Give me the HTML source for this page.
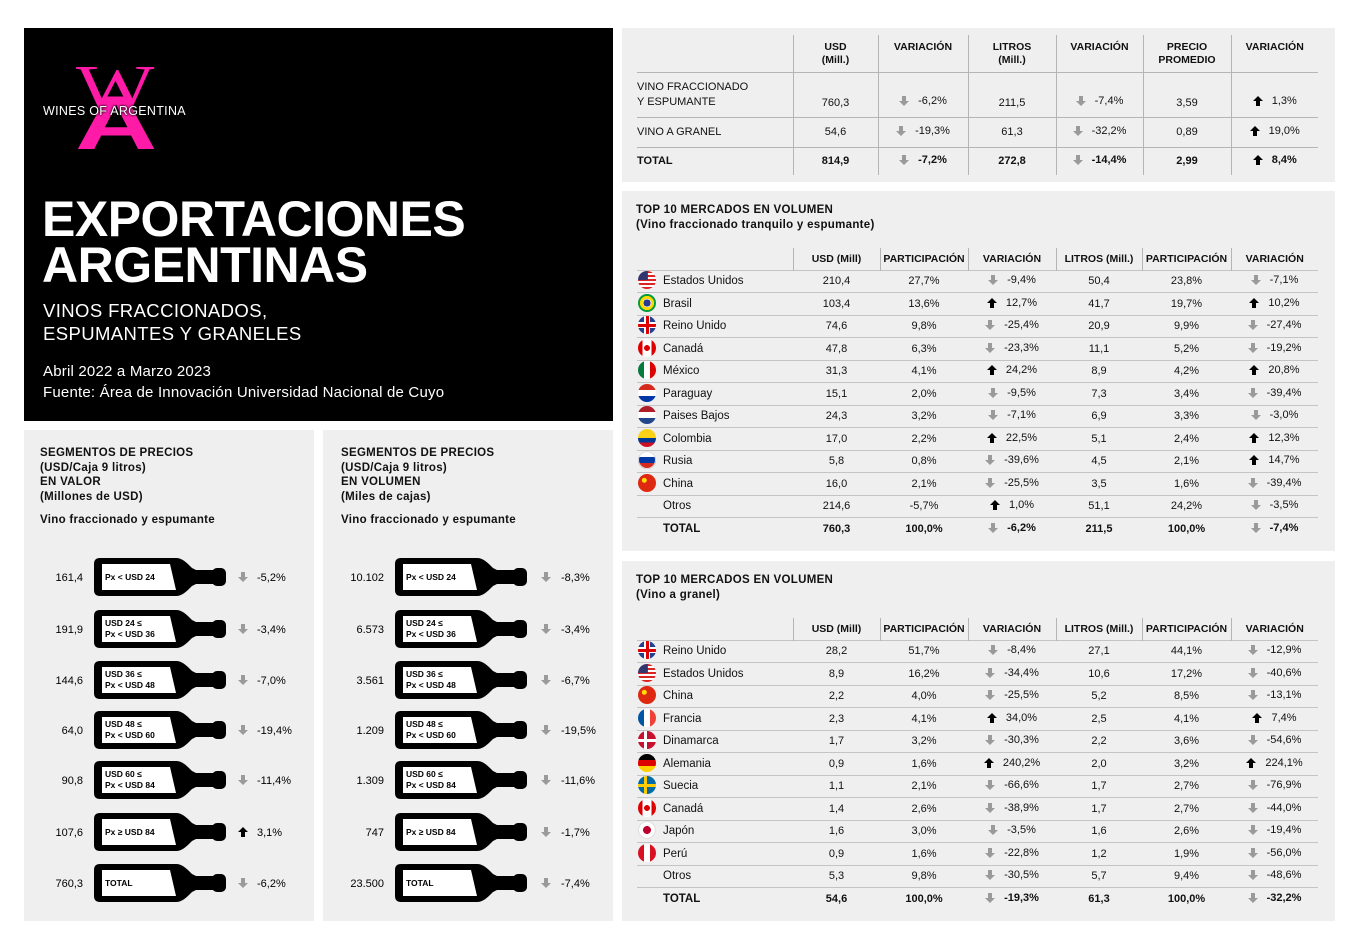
<!DOCTYPE html>
<html><head><meta charset="utf-8">
<style>
*{margin:0;padding:0;box-sizing:border-box}
body{width:1360px;height:945px;background:#fff;position:relative;font-family:"Liberation Sans",sans-serif;color:#111;overflow:hidden}
.p{position:absolute;background:#efefef}
.blk{position:absolute;left:24px;top:28px;width:589px;height:393px;background:#000;color:#fff}
.ab{position:absolute;white-space:nowrap}
table{border-collapse:collapse;position:absolute;table-layout:fixed;font-size:11px}
td{text-align:center;white-space:nowrap;padding:0}
.t1 td{border-left:1px solid #b5b5b5}
.t1 td:first-child{border-left:none;text-align:left}
.t1 tr.h td{vertical-align:top;padding-top:6px;font-weight:bold;font-size:10.5px;line-height:13px}
.t1 tr.r td{border-top:1px solid #b5b5b5}
.t2 tr.h td{font-weight:bold;font-size:10.5px;border-left:1px solid #b5b5b5;height:22px;vertical-align:middle}
.t2 tr.h td:first-child{border-left:none}
.t2 tr.r td{height:22.5px;border-top:1px solid #c4c4c4;font-size:11px}
.t2 tr.r td:first-child{text-align:left;font-size:11.5px}
.b td{font-weight:bold}
.f{display:inline-block;width:18px;height:18px;border-radius:50%;vertical-align:middle;margin:0 7px 0 1px;position:relative;top:-1px}
.v{display:inline-flex;align-items:center;gap:9px}
.v svg{width:10px;height:10px}
.us{background:linear-gradient(#33366e,#33366e) 0 0/55% 50% no-repeat,repeating-linear-gradient(#d22 0 2px,#fff 2px 4px)}
.br{background:radial-gradient(circle,#2a3a8c 0 28%,#fff 29% 33%,#ffd800 34% 55%,#009b3a 56%)}
.uk{background:linear-gradient(#d00,#d00) center/100% 3px no-repeat,linear-gradient(#d00,#d00) center/3px 100% no-repeat,linear-gradient(#fff,#fff) center/100% 6px no-repeat,linear-gradient(#fff,#fff) center/6px 100% no-repeat,#23408e}
.ca{background:radial-gradient(circle,#d00 0 22%,transparent 24%),linear-gradient(90deg,#d00 25%,#fff 25% 75%,#d00 75%)}
.mx{background:linear-gradient(90deg,#087a3e 33%,#fff 33% 67%,#d00 67%)}
.py{background:linear-gradient(#d52b1e 33%,#fff 33% 67%,#0038a8 67%)}
.nl{background:linear-gradient(#ae1c28 33%,#fff 33% 67%,#21468b 67%)}
.co{background:linear-gradient(#fcd116 50%,#003893 50% 75%,#ce1126 75%)}
.ru{background:linear-gradient(#fff 33%,#0039a6 33% 67%,#d52b1e 67%);box-shadow:inset 0 0 0 1px #ddd}
.cn{background:radial-gradient(circle at 35% 35%,#ffde00 0 14%,#de2910 16%)}
.fr{background:linear-gradient(90deg,#0055a4 33%,#fff 33% 67%,#ef4135 67%)}
.dk{background:linear-gradient(#fff,#fff) center/100% 3px no-repeat,linear-gradient(#fff,#fff) 40% 0/3px 100% no-repeat,#c8102e}
.de{background:linear-gradient(#000 33%,#dd0000 33% 67%,#ffce00 67%)}
.se{background:linear-gradient(#fecc00,#fecc00) center/100% 3px no-repeat,linear-gradient(#fecc00,#fecc00) 40% 0/3px 100% no-repeat,#006aa7}
.jp{background:radial-gradient(circle,#bc002d 0 30%,#fff 32%);box-shadow:inset 0 0 0 1px #ddd}
.pe{background:linear-gradient(90deg,#d91023 33%,#fff 33% 67%,#d91023 67%)}
.nf{display:inline-block;width:26px}
.st{position:absolute;font-weight:bold;font-size:11.5px;line-height:14.5px;letter-spacing:.3px}
</style></head><body>
<svg width="0" height="0" style="position:absolute">
<defs>
<path id="dn" d="M3,0 H7 V5 H10 L5,10 L0,5 H3 Z" fill="#9a9a9a"/>
<path id="up" d="M5,0 L10,5 H7 V10 H3 V5 H0 Z" fill="#000"/>
<g id="bt">
<path d="M6,0 H82 C88,0 92,4 98,10 L102,12 H124 V26 H102 L98,28 C92,34 88,38 82,38 H6 Q0,38 0,32 V6 Q0,0 6,0 Z" fill="#000"/>
<rect x="118" y="10" width="14" height="18" rx="5" fill="#000"/>
<path d="M8,6 H76 L82,32 H8 Z" fill="#fff"/>
</g>
</defs></svg>

<div class="blk">
<div class="ab" style="left:52px;top:35px;font-family:'Liberation Serif',serif;font-size:62px;color:#ff1aa8;line-height:50px;transform:scaleX(1.34);transform-origin:left">W</div>
<div class="ab" style="left:51px;top:58px;font-size:76px;font-weight:bold;color:#ff1aa8;line-height:76px;transform:scaleX(1.5);transform-origin:left">A</div>
<div class="ab" style="left:19px;top:76px;font-size:12.5px;color:#fff;letter-spacing:.3px;text-shadow:0 0 2px #000,0 0 2px #000">WINES OF ARGENTINA</div>
<div class="ab" style="left:18px;top:168px;font-size:50px;font-weight:bold;line-height:46px;letter-spacing:-.5px">EXPORTACIONES<br>ARGENTINAS</div>
<div class="ab" style="left:19px;top:271px;font-size:18.5px;line-height:23px;letter-spacing:.4px">VINOS FRACCIONADOS,<br>ESPUMANTES Y GRANELES</div>
<div class="ab" style="left:19px;top:333px;font-size:15px;line-height:21px;letter-spacing:.2px">Abril 2022 a Marzo 2023<br>Fuente: Área de Innovación Universidad Nacional de Cuyo</div>
</div>

<div class="p" style="left:24px;top:430px;width:290px;height:491px"></div>
<div class="p" style="left:323px;top:430px;width:290px;height:491px"></div>
<div class="st" style="left:40px;top:446px">SEGMENTOS DE PRECIOS<br>(USD/Caja 9 litros)<br>EN VALOR<br>(Millones de USD)</div>
<div class="st" style="left:40px;top:513px">Vino fraccionado y espumante</div>
<div class="st" style="left:341px;top:446px">SEGMENTOS DE PRECIOS<br>(USD/Caja 9 litros)<br>EN VOLUMEN<br>(Miles de cajas)</div>
<div class="st" style="left:341px;top:513px">Vino fraccionado y espumante</div>

<svg style="position:absolute;left:0;top:0" width="1360" height="945" font-family="Liberation Sans, sans-serif" font-size="11">
<g>
<use href="#bt" x="94" y="558"/><use href="#bt" x="94" y="610"/><use href="#bt" x="94" y="661"/><use href="#bt" x="94" y="711"/><use href="#bt" x="94" y="761"/><use href="#bt" x="94" y="813"/><use href="#bt" x="94" y="864"/>
<use href="#bt" x="395" y="558"/><use href="#bt" x="395" y="610"/><use href="#bt" x="395" y="661"/><use href="#bt" x="395" y="711"/><use href="#bt" x="395" y="761"/><use href="#bt" x="395" y="813"/><use href="#bt" x="395" y="864"/>
</g>
<g text-anchor="end">
<text x="83" y="581">161,4</text><text x="83" y="633">191,9</text><text x="83" y="684">144,6</text><text x="83" y="734">64,0</text><text x="83" y="784">90,8</text><text x="83" y="836">107,6</text><text x="83" y="887">760,3</text>
<text x="384" y="581">10.102</text><text x="384" y="633">6.573</text><text x="384" y="684">3.561</text><text x="384" y="734">1.209</text><text x="384" y="784">1.309</text><text x="384" y="836">747</text><text x="384" y="887">23.500</text>
</g>
<g font-weight="bold" font-size="8.5">
<text x="105" y="580">Px &lt; USD 24</text>
<text x="105" y="626">USD 24 ≤</text><text x="105" y="637">Px &lt; USD 36</text>
<text x="105" y="677">USD 36 ≤</text><text x="105" y="688">Px &lt; USD 48</text>
<text x="105" y="727">USD 48 ≤</text><text x="105" y="738">Px &lt; USD 60</text>
<text x="105" y="777">USD 60 ≤</text><text x="105" y="788">Px &lt; USD 84</text>
<text x="105" y="835">Px ≥ USD 84</text>
<text x="105" y="886">TOTAL</text>
<text x="406" y="580">Px &lt; USD 24</text>
<text x="406" y="626">USD 24 ≤</text><text x="406" y="637">Px &lt; USD 36</text>
<text x="406" y="677">USD 36 ≤</text><text x="406" y="688">Px &lt; USD 48</text>
<text x="406" y="727">USD 48 ≤</text><text x="406" y="738">Px &lt; USD 60</text>
<text x="406" y="777">USD 60 ≤</text><text x="406" y="788">Px &lt; USD 84</text>
<text x="406" y="835">Px ≥ USD 84</text>
<text x="406" y="886">TOTAL</text>
</g>
<g>
<use href="#dn" x="238" y="572"/><use href="#dn" x="238" y="624"/><use href="#dn" x="238" y="675"/><use href="#dn" x="238" y="725"/><use href="#dn" x="238" y="775"/><use href="#up" x="238" y="827"/><use href="#dn" x="238" y="878"/>
<use href="#dn" x="541" y="572"/><use href="#dn" x="541" y="624"/><use href="#dn" x="541" y="675"/><use href="#dn" x="541" y="725"/><use href="#dn" x="541" y="775"/><use href="#dn" x="541" y="827"/><use href="#dn" x="541" y="878"/>
</g>
<text x="257" y="581">-5,2%</text><text x="257" y="633">-3,4%</text><text x="257" y="684">-7,0%</text><text x="257" y="734">-19,4%</text><text x="257" y="784">-11,4%</text><text x="257" y="836">3,1%</text><text x="257" y="887">-6,2%</text>
<text x="561" y="581">-8,3%</text><text x="561" y="633">-3,4%</text><text x="561" y="684">-6,7%</text><text x="561" y="734">-19,5%</text><text x="561" y="784">-11,6%</text><text x="561" y="836">-1,7%</text><text x="561" y="887">-7,4%</text>
</svg>

<div class="p" style="left:622px;top:28px;width:713px;height:154px"></div>
<table class="t1" style="left:637px;top:35px;width:681px">
<colgroup><col style="width:156px"><col style="width:85px"><col style="width:90px"><col style="width:88px"><col style="width:87px"><col style="width:88px"><col style="width:87px"></colgroup>
<tr class="h" style="height:37px"><td></td><td>USD<br>(Mill.)</td><td>VARIACIÓN</td><td>LITROS<br>(Mill.)</td><td>VARIACIÓN</td><td>PRECIO<br>PROMEDIO</td><td>VARIACIÓN</td></tr>
<tr class="r" style="height:45px"><td style="vertical-align:bottom;padding-bottom:7px;line-height:15px">VINO FRACCIONADO<br>Y ESPUMANTE</td><td style="vertical-align:bottom;padding-bottom:8px">760,3</td><td style="vertical-align:bottom;padding-bottom:8px"><span class="v"><svg><use href="#dn"/></svg>-6,2%</span></td><td style="vertical-align:bottom;padding-bottom:8px">211,5</td><td style="vertical-align:bottom;padding-bottom:8px"><span class="v"><svg><use href="#dn"/></svg>-7,4%</span></td><td style="vertical-align:bottom;padding-bottom:8px">3,59</td><td style="vertical-align:bottom;padding-bottom:8px"><span class="v"><svg><use href="#up"/></svg>1,3%</span></td></tr>
<tr class="r" style="height:30px"><td>VINO A GRANEL</td><td>54,6</td><td><span class="v"><svg><use href="#dn"/></svg>-19,3%</span></td><td>61,3</td><td><span class="v"><svg><use href="#dn"/></svg>-32,2%</span></td><td>0,89</td><td><span class="v"><svg><use href="#up"/></svg>19,0%</span></td></tr>
<tr class="r b" style="height:28px"><td>TOTAL</td><td>814,9</td><td><span class="v"><svg><use href="#dn"/></svg>-7,2%</span></td><td>272,8</td><td><span class="v"><svg><use href="#dn"/></svg>-14,4%</span></td><td>2,99</td><td><span class="v"><svg><use href="#up"/></svg>8,4%</span></td></tr>
</table>

<div class="p" style="left:622px;top:191px;width:713px;height:360px"></div>
<div class="st" style="left:636px;top:203px">TOP 10 MERCADOS EN VOLUMEN<br>(Vino fraccionado tranquilo y espumante)</div>
<table class="t2" style="left:637px;top:248px;width:681px">
<colgroup><col style="width:156px"><col style="width:87px"><col style="width:88px"><col style="width:88px"><col style="width:86px"><col style="width:89px"><col style="width:87px"></colgroup>
<tr class="h"><td></td><td>USD (Mill)</td><td>PARTICIPACIÓN</td><td>VARIACIÓN</td><td>LITROS (Mill.)</td><td>PARTICIPACIÓN</td><td>VARIACIÓN</td></tr>
<tr class="r"><td><span class="f us"></span>Estados Unidos</td><td>210,4</td><td>27,7%</td><td><span class="v"><svg><use href="#dn"/></svg>-9,4%</span></td><td>50,4</td><td>23,8%</td><td><span class="v"><svg><use href="#dn"/></svg>-7,1%</span></td></tr>
<tr class="r"><td><span class="f br"></span>Brasil</td><td>103,4</td><td>13,6%</td><td><span class="v"><svg><use href="#up"/></svg>12,7%</span></td><td>41,7</td><td>19,7%</td><td><span class="v"><svg><use href="#up"/></svg>10,2%</span></td></tr>
<tr class="r"><td><span class="f uk"></span>Reino Unido</td><td>74,6</td><td>9,8%</td><td><span class="v"><svg><use href="#dn"/></svg>-25,4%</span></td><td>20,9</td><td>9,9%</td><td><span class="v"><svg><use href="#dn"/></svg>-27,4%</span></td></tr>
<tr class="r"><td><span class="f ca"></span>Canadá</td><td>47,8</td><td>6,3%</td><td><span class="v"><svg><use href="#dn"/></svg>-23,3%</span></td><td>11,1</td><td>5,2%</td><td><span class="v"><svg><use href="#dn"/></svg>-19,2%</span></td></tr>
<tr class="r"><td><span class="f mx"></span>México</td><td>31,3</td><td>4,1%</td><td><span class="v"><svg><use href="#up"/></svg>24,2%</span></td><td>8,9</td><td>4,2%</td><td><span class="v"><svg><use href="#up"/></svg>20,8%</span></td></tr>
<tr class="r"><td><span class="f py"></span>Paraguay</td><td>15,1</td><td>2,0%</td><td><span class="v"><svg><use href="#dn"/></svg>-9,5%</span></td><td>7,3</td><td>3,4%</td><td><span class="v"><svg><use href="#dn"/></svg>-39,4%</span></td></tr>
<tr class="r"><td><span class="f nl"></span>Paises Bajos</td><td>24,3</td><td>3,2%</td><td><span class="v"><svg><use href="#dn"/></svg>-7,1%</span></td><td>6,9</td><td>3,3%</td><td><span class="v"><svg><use href="#dn"/></svg>-3,0%</span></td></tr>
<tr class="r"><td><span class="f co"></span>Colombia</td><td>17,0</td><td>2,2%</td><td><span class="v"><svg><use href="#up"/></svg>22,5%</span></td><td>5,1</td><td>2,4%</td><td><span class="v"><svg><use href="#up"/></svg>12,3%</span></td></tr>
<tr class="r"><td><span class="f ru"></span>Rusia</td><td>5,8</td><td>0,8%</td><td><span class="v"><svg><use href="#dn"/></svg>-39,6%</span></td><td>4,5</td><td>2,1%</td><td><span class="v"><svg><use href="#up"/></svg>14,7%</span></td></tr>
<tr class="r"><td><span class="f cn"></span>China</td><td>16,0</td><td>2,1%</td><td><span class="v"><svg><use href="#dn"/></svg>-25,5%</span></td><td>3,5</td><td>1,6%</td><td><span class="v"><svg><use href="#dn"/></svg>-39,4%</span></td></tr>
<tr class="r"><td><span class="nf"></span>Otros</td><td>214,6</td><td>-5,7%</td><td><span class="v"><svg><use href="#up"/></svg>1,0%</span></td><td>51,1</td><td>24,2%</td><td><span class="v"><svg><use href="#dn"/></svg>-3,5%</span></td></tr>
<tr class="r b"><td><span class="nf"></span>TOTAL</td><td>760,3</td><td>100,0%</td><td><span class="v"><svg><use href="#dn"/></svg>-6,2%</span></td><td>211,5</td><td>100,0%</td><td><span class="v"><svg><use href="#dn"/></svg>-7,4%</span></td></tr>
</table>

<div class="p" style="left:622px;top:561px;width:713px;height:360px"></div>
<div class="st" style="left:636px;top:573px">TOP 10 MERCADOS EN VOLUMEN<br>(Vino a granel)</div>
<table class="t2" style="left:637px;top:618px;width:681px">
<colgroup><col style="width:156px"><col style="width:87px"><col style="width:88px"><col style="width:88px"><col style="width:86px"><col style="width:89px"><col style="width:87px"></colgroup>
<tr class="h"><td></td><td>USD (Mill)</td><td>PARTICIPACIÓN</td><td>VARIACIÓN</td><td>LITROS (Mill.)</td><td>PARTICIPACIÓN</td><td>VARIACIÓN</td></tr>
<tr class="r"><td><span class="f uk"></span>Reino Unido</td><td>28,2</td><td>51,7%</td><td><span class="v"><svg><use href="#dn"/></svg>-8,4%</span></td><td>27,1</td><td>44,1%</td><td><span class="v"><svg><use href="#dn"/></svg>-12,9%</span></td></tr>
<tr class="r"><td><span class="f us"></span>Estados Unidos</td><td>8,9</td><td>16,2%</td><td><span class="v"><svg><use href="#dn"/></svg>-34,4%</span></td><td>10,6</td><td>17,2%</td><td><span class="v"><svg><use href="#dn"/></svg>-40,6%</span></td></tr>
<tr class="r"><td><span class="f cn"></span>China</td><td>2,2</td><td>4,0%</td><td><span class="v"><svg><use href="#dn"/></svg>-25,5%</span></td><td>5,2</td><td>8,5%</td><td><span class="v"><svg><use href="#dn"/></svg>-13,1%</span></td></tr>
<tr class="r"><td><span class="f fr"></span>Francia</td><td>2,3</td><td>4,1%</td><td><span class="v"><svg><use href="#up"/></svg>34,0%</span></td><td>2,5</td><td>4,1%</td><td><span class="v"><svg><use href="#up"/></svg>7,4%</span></td></tr>
<tr class="r"><td><span class="f dk"></span>Dinamarca</td><td>1,7</td><td>3,2%</td><td><span class="v"><svg><use href="#dn"/></svg>-30,3%</span></td><td>2,2</td><td>3,6%</td><td><span class="v"><svg><use href="#dn"/></svg>-54,6%</span></td></tr>
<tr class="r"><td><span class="f de"></span>Alemania</td><td>0,9</td><td>1,6%</td><td><span class="v"><svg><use href="#up"/></svg>240,2%</span></td><td>2,0</td><td>3,2%</td><td><span class="v"><svg><use href="#up"/></svg>224,1%</span></td></tr>
<tr class="r"><td><span class="f se"></span>Suecia</td><td>1,1</td><td>2,1%</td><td><span class="v"><svg><use href="#dn"/></svg>-66,6%</span></td><td>1,7</td><td>2,7%</td><td><span class="v"><svg><use href="#dn"/></svg>-76,9%</span></td></tr>
<tr class="r"><td><span class="f ca"></span>Canadá</td><td>1,4</td><td>2,6%</td><td><span class="v"><svg><use href="#dn"/></svg>-38,9%</span></td><td>1,7</td><td>2,7%</td><td><span class="v"><svg><use href="#dn"/></svg>-44,0%</span></td></tr>
<tr class="r"><td><span class="f jp"></span>Japón</td><td>1,6</td><td>3,0%</td><td><span class="v"><svg><use href="#dn"/></svg>-3,5%</span></td><td>1,6</td><td>2,6%</td><td><span class="v"><svg><use href="#dn"/></svg>-19,4%</span></td></tr>
<tr class="r"><td><span class="f pe"></span>Perú</td><td>0,9</td><td>1,6%</td><td><span class="v"><svg><use href="#dn"/></svg>-22,8%</span></td><td>1,2</td><td>1,9%</td><td><span class="v"><svg><use href="#dn"/></svg>-56,0%</span></td></tr>
<tr class="r"><td><span class="nf"></span>Otros</td><td>5,3</td><td>9,8%</td><td><span class="v"><svg><use href="#dn"/></svg>-30,5%</span></td><td>5,7</td><td>9,4%</td><td><span class="v"><svg><use href="#dn"/></svg>-48,6%</span></td></tr>
<tr class="r b"><td><span class="nf"></span>TOTAL</td><td>54,6</td><td>100,0%</td><td><span class="v"><svg><use href="#dn"/></svg>-19,3%</span></td><td>61,3</td><td>100,0%</td><td><span class="v"><svg><use href="#dn"/></svg>-32,2%</span></td></tr>
</table>
</body></html>
